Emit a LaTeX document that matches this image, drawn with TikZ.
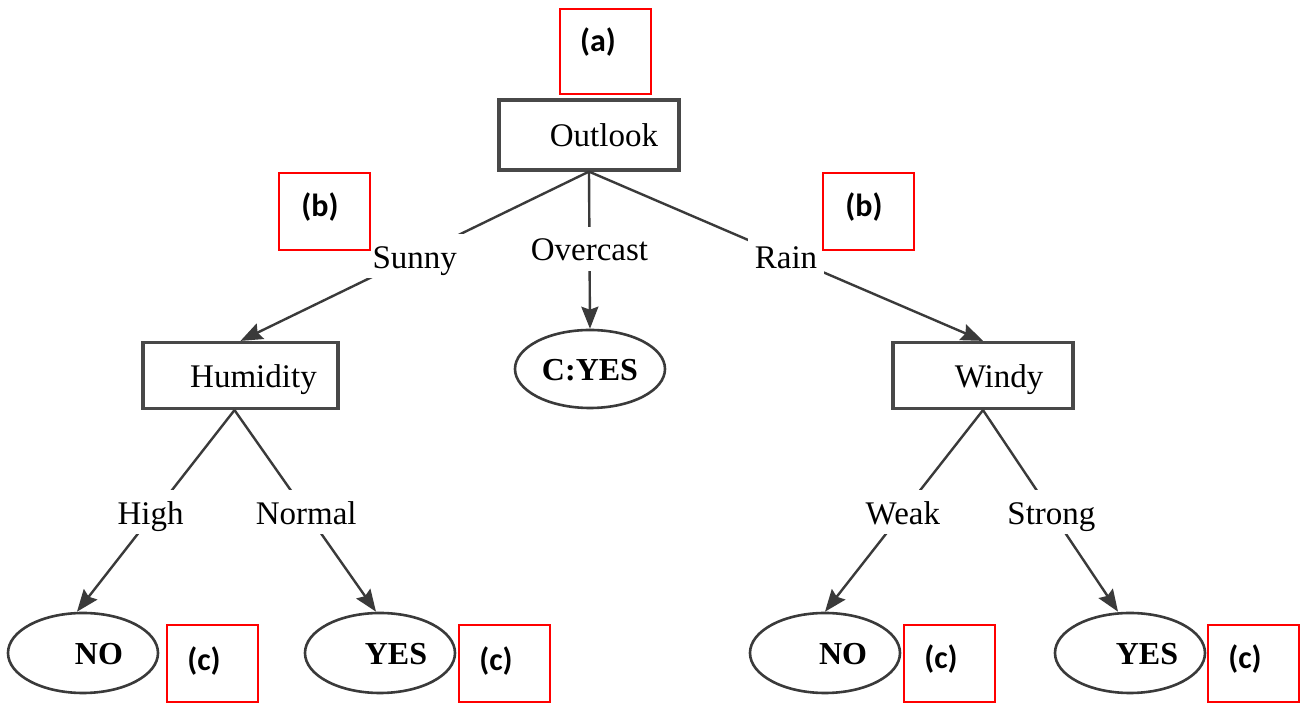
\documentclass[tikz,border=0pt]{standalone}
\usepackage{fontspec}
\setmainfont{Liberation Serif}
\newfontfamily\calib{Carlito}
\usetikzlibrary{shapes.geometric,arrows.meta}
\definecolor{ln}{HTML}{3A3A3A}
\definecolor{bx}{HTML}{484848}
\definecolor{rd}{HTML}{FF0000}
\begin{document}
\begin{tikzpicture}[x=0.5pt,y=-0.5pt,
 every node/.style={font=\fontsize{16.5}{18}\selectfont},
 attr/.style={draw=bx, line width=1.6pt, minimum height=33pt, inner sep=0pt, text height=13.5pt, text depth=1.5pt},
 leaf/.style={ellipse, draw=ln, line width=1.3pt, minimum width=75pt, minimum height=40pt, inner sep=0pt, text height=12pt, text depth=0pt, font=\fontsize{16}{18}\selectfont\bfseries},
 lbl/.style={fill=white, inner sep=3.5pt, text height=13.5pt, text depth=1.5pt},
 conn/.style={draw=ln, line width=1.2pt},
 arr/.style={conn, -{Stealth[length=11pt,width=8.5pt,inset=1.5pt]}},
 markbox/.style={draw=rd, line width=1pt, minimum width=45.5pt, inner sep=0pt},
 marktext/.style={font=\calib\bfseries\fontsize{16}{18}\selectfont, inner sep=0pt}
]
\useasboundingbox (0,0) rectangle (1303,704);
\fill[white] (0,0) rectangle (1303,704);

% attribute boxes
\node[attr, minimum width=90pt, minimum height=35pt] (outlook) at (589,135) {\hspace*{15pt}Outlook};
\node[attr, minimum width=97.5pt] (humidity) at (240.5,375.5) {\hspace*{13pt}Humidity};
\node[attr, minimum width=90pt] (windy) at (983,375.5) {\hspace*{16pt}Windy};

% leaves
\node[leaf, minimum height=39pt] (cyes) at (590,369) {C:YES};
\node[leaf] (no1) at (83,653) {\hspace*{16pt}NO};
\node[leaf] (yes1) at (380,653) {\hspace*{16pt}YES};
\node[leaf] (no2) at (825,653) {\hspace*{18pt}NO};
\node[leaf] (yes2) at (1130,653) {\hspace*{17pt}YES};

% connectors
\path[arr] (outlook.south) -- node[lbl, pos=0.5] (sunny) {Sunny} (humidity.north);
\path[arr] (outlook.south) -- node[lbl, pos=0.49] (overcast) {Overcast} (cyes.north);
\path[arr] (outlook.south) -- node[lbl, pos=0.5] (rain) {Rain} (windy.north);
\path[arr] ([xshift=-3]humidity.south) -- node[lbl, pos=0.507, xshift=-2] (high) {High} ([xshift=-3]no1.north);
\path[arr] ([xshift=-3]humidity.south) -- node[lbl, pos=0.507] (normal) {Normal} ([xshift=-2]yes1.north);
\path[arr] (windy.south) -- node[lbl, pos=0.507] (weak) {Weak} (no2.north);
\path[arr] (windy.south) -- node[lbl, pos=0.507] (strong) {Strong} ([xshift=-6]yes2.north);

% red markers
\node[markbox, minimum height=42.5pt] (ma) at (605.5,51.5) {};
\node[marktext] (ta) at (598,42) {(a)};
\node[markbox, minimum height=38.5pt] (mb1) at (324.5,211.5) {};
\node[marktext] (tb1) at (320,207) {(b)};
\node[markbox, minimum height=38.5pt] (mb2) at (868,211.5) {};
\node[marktext] (tb2) at (864,207) {(b)};
\node[markbox, minimum height=38.5pt] (mc1) at (212.5,663.5) {};
\node[marktext] (tc1) at (204,661) {(c)};
\node[markbox, minimum height=38.5pt] (mc2) at (504.5,663.5) {};
\node[marktext] (tc2) at (496,661) {(c)};
\node[markbox, minimum height=38.5pt] (mc3) at (949.5,663.5) {};
\node[marktext] (tc3) at (941,659) {(c)};
\node[markbox, minimum height=38.5pt] (mc4) at (1253,663.5) {};
\node[marktext] (tc4) at (1245,659) {(c)};
\end{tikzpicture}
\end{document}
